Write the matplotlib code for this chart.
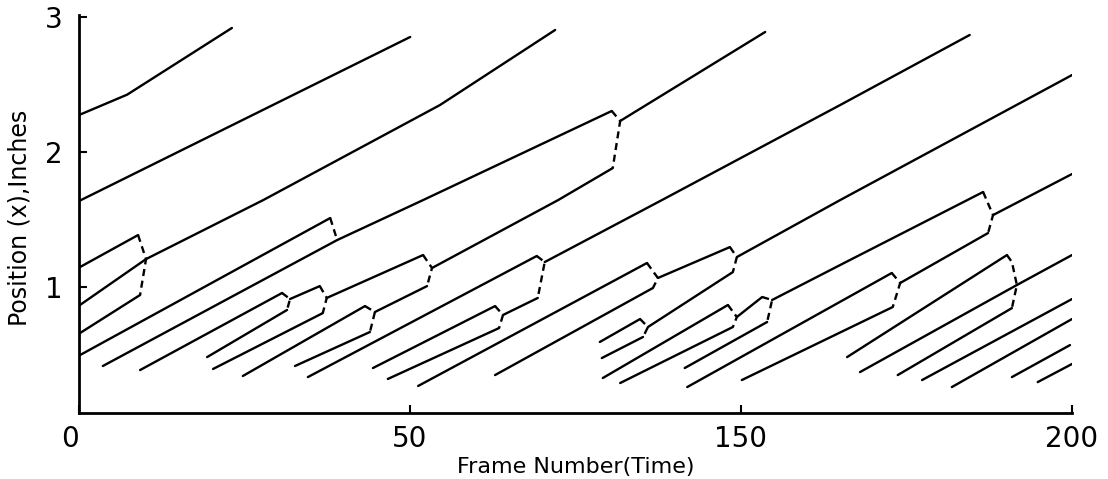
import matplotlib
matplotlib.use("Agg")
import matplotlib.pyplot as plt
from matplotlib.transforms import ScaledTranslation

# ---- axis values ----
x_ticks = [0, 200 / 3, 400 / 3, 200]
x_tick_labels = ["0", "50", "150", "200"]
y_ticks = [1, 2, 3]
y_tick_labels = ["1", "2", "3"]
x_limits = (0, 200)
y_limits = (0.067, 3.015)

# ---- bubble tracks: (frame, position) points of each solid trace ----
upper_tracks = [
    [(0, 2.274), (9.7, 2.425), (30.8, 2.919)],
    [(0, 1.637), (66.7, 2.852)],
    [(0.2, 0.867), (13.5, 1.207), (37.1, 1.644), (72.7, 2.348), (95.9, 2.904)],
    [(4.8, 0.415), (52.0, 1.348), (69.3, 1.644), (107.3, 2.304)],
    [(109.0, 2.230), (138.2, 2.889)],
    [(93.8, 1.185), (117.4, 1.644), (153.3, 2.348), (179.4, 2.867)],
    [(132.5, 1.222), (153.3, 1.644), (200.0, 2.570)],
    [(184.1, 1.533), (200.0, 1.837)],
]

left_tracks = [
    [(0.2, 1.148), (11.9, 1.385)],
    [(0.2, 0.659), (12.3, 0.941)],
    [(0.2, 0.496), (50.6, 1.511)],
    [(12.3, 0.385), (40.9, 0.956)],
    [(25.8, 0.481), (41.9, 0.830)],
    [(42.5, 0.911), (48.5, 1.007)],
    [(27.0, 0.393), (49.1, 0.807)],
    [(49.9, 0.919), (69.3, 1.237)],
    [(33.0, 0.341), (57.6, 0.859)],
    [(43.5, 0.415), (58.6, 0.667)],
    [(59.6, 0.815), (70.1, 1.007)],
    [(71.1, 1.141), (96.5, 1.644), (107.5, 1.881)],
]

middle_tracks = [
    [(46.1, 0.333), (92.2, 1.230)],
    [(59.2, 0.400), (83.8, 0.859)],
    [(62.2, 0.319), (84.6, 0.696)],
    [(85.4, 0.793), (92.4, 0.919)],
    [(68.3, 0.267), (114.4, 1.178)],
    [(83.8, 0.348), (115.6, 0.993)],
    [(116.6, 1.067), (131.1, 1.296)],
    [(104.9, 0.593), (113.0, 0.763)],
    [(105.3, 0.474), (113.6, 0.630)],
    [(114.6, 0.704), (131.7, 1.111)],
    [(105.5, 0.326), (130.7, 0.867)],
    [(109.0, 0.289), (131.7, 0.704)],
    [(132.5, 0.778), (137.6, 0.926)],
    [(122.0, 0.400), (138.6, 0.741)],
    [(139.6, 0.904), (153.3, 1.163), (182.1, 1.704)],
]

right_tracks = [
    [(122.5, 0.259), (163.7, 1.104)],
    [(133.5, 0.311), (163.9, 0.852)],
    [(165.4, 1.030), (183.1, 1.400)],
    [(154.7, 0.481), (186.9, 1.237)],
    [(157.3, 0.370), (188.9, 1.015)],
    [(164.9, 0.348), (187.9, 0.844)],
    [(188.9, 1.015), (200.0, 1.237)],
    [(169.8, 0.311), (200.0, 0.911)],
    [(175.8, 0.259), (200.0, 0.763)],
    [(187.9, 0.333), (199.6, 0.570)],
    [(193.1, 0.296), (200.0, 0.430)],
]

# ---- dashed coalescence brackets: top end -> merge point -> bottom end ----
merge_brackets = [
    [(11.9, 1.385), (13.5, 1.207), (12.3, 0.941)],
    [(50.6, 1.511), (52.0, 1.348)],
    [(107.3, 2.304), (109.0, 2.230), (107.5, 1.881)],
    [(40.9, 0.956), (42.5, 0.911), (41.9, 0.830)],
    [(48.5, 1.007), (49.9, 0.919), (49.1, 0.807)],
    [(69.3, 1.237), (71.1, 1.141), (70.1, 1.007)],
    [(57.6, 0.859), (59.6, 0.815), (58.6, 0.667)],
    [(92.2, 1.230), (93.8, 1.185), (92.4, 0.919)],
    [(83.8, 0.859), (85.4, 0.793), (84.6, 0.696)],
    [(114.4, 1.178), (116.6, 1.067), (115.6, 0.993)],
    [(131.1, 1.296), (132.5, 1.222), (131.7, 1.111)],
    [(113.0, 0.763), (114.6, 0.704), (113.6, 0.630)],
    [(130.7, 0.867), (132.5, 0.778), (131.7, 0.704)],
    [(137.6, 0.926), (139.6, 0.904), (138.6, 0.741)],
    [(182.1, 1.704), (184.1, 1.533), (183.1, 1.400)],
    [(163.7, 1.104), (165.4, 1.030), (163.9, 0.852)],
    [(186.9, 1.237), (187.9, 1.185), (188.9, 1.015), (187.9, 0.844)],
]

fig = plt.figure(figsize=(11.08, 4.79), dpi=100)
ax = fig.add_axes([0.0713, 0.1378, 0.8962, 0.8309])

for group in (upper_tracks, left_tracks, middle_tracks, right_tracks):
    for track in group:
        xs = [p[0] for p in track]
        ys = [p[1] for p in track]
        ax.plot(xs, ys, color="black", lw=1.7, solid_capstyle="round")

for br in merge_brackets:
    xs = [p[0] for p in br]
    ys = [p[1] for p in br]
    ax.plot(xs, ys, color="black", lw=1.7, linestyle=(0, (3, 2)))

ax.set_xlim(*x_limits)
ax.set_ylim(*y_limits)
ax.spines["top"].set_visible(False)
ax.spines["right"].set_visible(False)
ax.spines["left"].set_linewidth(2)
ax.spines["bottom"].set_linewidth(2)

ax.set_xticks(x_ticks)
ax.set_xticklabels(x_tick_labels)
ax.set_yticks(y_ticks)
ax.set_yticklabels(y_tick_labels)
ax.tick_params(axis="both", direction="in", length=6, width=1.5,
               labelsize=20, colors="black")
ax.tick_params(axis="x", pad=9)
ax.tick_params(axis="y", pad=12)

# the "0" label sits a little left of the corner
first = ax.get_xticklabels()[0]
first.set_transform(first.get_transform() + ScaledTranslation(-9 / 100, 0, fig.dpi_scale_trans))

ax.set_xlabel("Frame Number(Time)", fontsize=16)
ax.xaxis.set_label_coords(0.5, -0.11)
ax.set_ylabel("Position (x),Inches", fontsize=17)
ax.yaxis.set_label_coords(-0.048, 0.49)

fig.savefig("out.png", dpi=100, facecolor="white")
